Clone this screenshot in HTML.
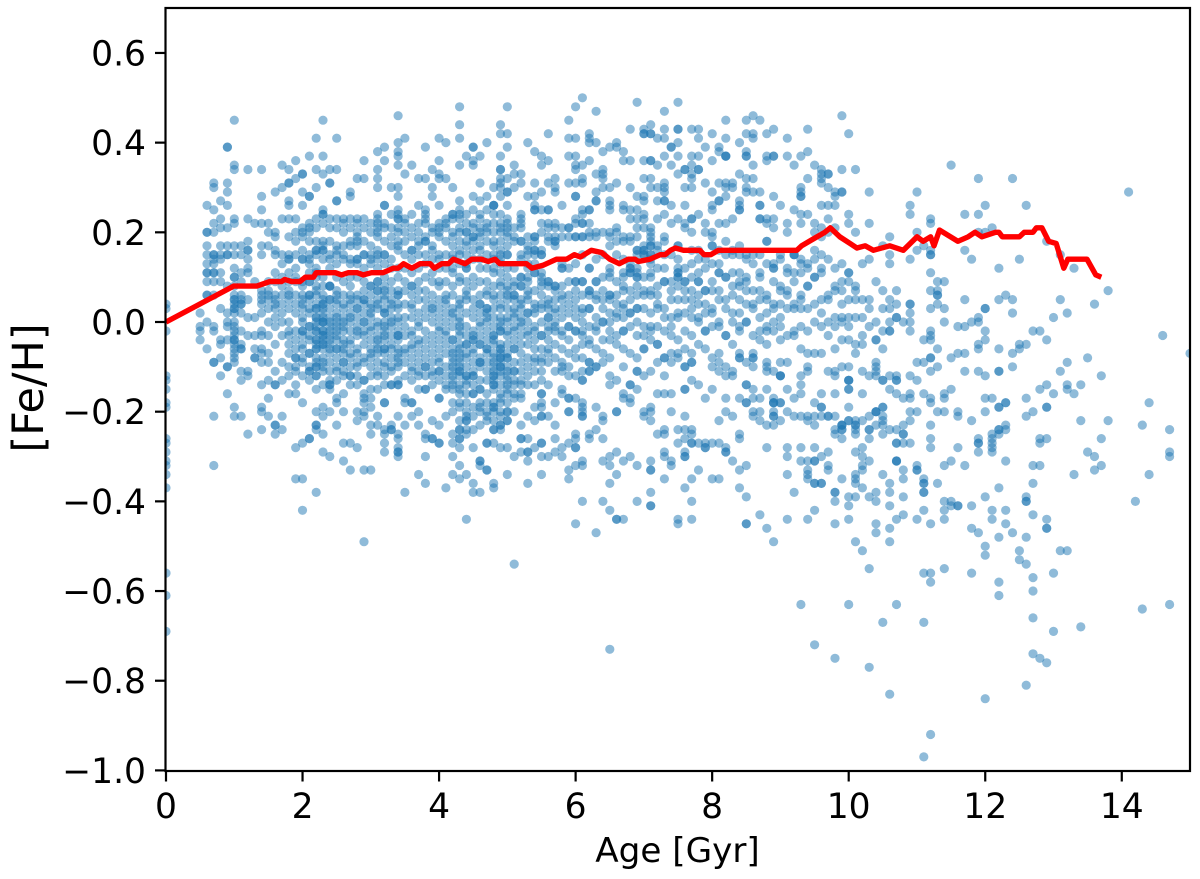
<!DOCTYPE html>
<html>
<head>
<meta charset="utf-8">
<title>Age vs [Fe/H]</title>
<style>
html,body{margin:0;padding:0;background:#fff;}
svg{display:block;}
text{font-family:"DejaVu Sans","Liberation Sans",sans-serif;fill:#000;}
</style>
</head>
<body>
<svg id="chart" xmlns="http://www.w3.org/2000/svg" width="1200" height="879" viewBox="0 0 1200 879">
<defs><clipPath id="plot-clip"><rect x="165.5" y="8" width="1024.5" height="763"/></clipPath></defs>
<rect x="0" y="0" width="1200" height="879" fill="#fff"/>
<g id="points" clip-path="url(#plot-clip)"></g>
<polyline id="trend" clip-path="url(#plot-clip)" fill="none" stroke="#ff0000" stroke-width="5.4" stroke-linejoin="round"/>
<g id="ticks"></g>
<rect x="165.5" y="8" width="1024.5" height="763" fill="none" stroke="#000" stroke-width="2.2"/>
<text x="677.5" y="862" font-size="34.2" text-anchor="middle">Age [Gyr]</text>
<text transform="translate(43,388) rotate(-90)" font-size="43" text-anchor="middle">[Fe/H]</text>
</svg>
<script>
const xTickValues = [0, 2, 4, 6, 8, 10, 12, 14];
const yTickValues = [0.6, 0.4, 0.2, 0, -0.2, -0.4, -0.6, -0.8, -1.0];
const yTickLabels = ["0.6", "0.4", "0.2", "0.0", "\u22120.2", "\u22120.4", "\u22120.6", "\u22120.8", "\u22121.0"];

const lineAges = [0,0.99,1.33,1.52,1.69,1.74,1.84,1.96,2.04,2.16,2.2,2.48,2.57,2.67,2.8,2.89,3.01,3.18,3.33,3.4,3.48,3.6,3.72,3.87,3.93,4.04,4.14,4.21,4.38,4.48,4.62,4.72,4.82,4.89,5.28,5.36,5.53,5.72,5.87,5.98,6.07,6.23,6.38,6.5,6.64,6.77,6.87,6.92,7.09,7.24,7.31,7.39,7.46,7.58,7.82,7.88,7.98,8.09,9.24,9.31,9.48,9.65,9.73,9.87,10.02,10.12,10.24,10.36,10.6,10.8,11.0,11.09,11.2,11.25,11.33,11.6,11.75,11.85,11.95,12.15,12.2,12.25,12.5,12.57,12.7,12.75,12.83,12.93,13.04,13.15,13.21,13.49,13.62,13.7];
const lineFeh = [0,0.08,0.08,0.09,0.09,0.095,0.09,0.09,0.10,0.10,0.11,0.11,0.105,0.11,0.11,0.105,0.11,0.11,0.12,0.12,0.13,0.12,0.13,0.13,0.12,0.13,0.13,0.14,0.13,0.14,0.14,0.135,0.14,0.13,0.13,0.12,0.127,0.14,0.14,0.15,0.145,0.16,0.155,0.14,0.13,0.14,0.14,0.135,0.14,0.15,0.15,0.16,0.165,0.16,0.16,0.15,0.15,0.16,0.16,0.17,0.185,0.20,0.21,0.19,0.175,0.165,0.17,0.16,0.17,0.16,0.19,0.18,0.19,0.17,0.205,0.18,0.19,0.20,0.19,0.20,0.20,0.19,0.19,0.20,0.20,0.21,0.21,0.18,0.175,0.12,0.14,0.14,0.105,0.10];

const ageColumns = [
0,0.5,0.6,0.7,0.8,0.9,1.0,1.1,1.2,1.3,1.4,1.5,1.6,1.7,1.8,1.9,2.0,2.1,2.2,2.3,2.4,2.5,2.6,2.7,2.8,2.9,
3.0,3.1,3.2,3.3,3.4,3.5,3.6,3.7,3.8,3.9,4.0,4.1,4.2,4.3,4.4,4.5,4.6,4.7,4.8,4.9,
5.0,5.1,5.2,5.3,5.4,5.5,5.6,5.7,5.8,5.9,6.0,6.1,6.2,6.3,6.4,6.5,6.6,6.7,6.8,6.9,
7.0,7.1,7.2,7.3,7.4,7.5,7.6,7.7,7.8,7.9,8.0,8.1,8.2,8.3,8.4,8.5,8.6,8.7,8.8,8.9,
9.0,9.1,9.2,9.3,9.4,9.5,9.6,9.7,9.8,9.9,
10.0,10.1,10.2,10.3,10.4,10.5,10.6,10.7,10.8,10.9,
11.0,11.1,11.2,11.3,11.4,11.5,11.6,11.7,11.8,11.9,
12.0,12.1,12.2,12.3,12.4,12.5,12.6,12.7,12.8,12.9,
13.0,13.1,13.2,13.3,13.4,13.5,13.6,13.7,13.8,14.1,14.2,14.3,14.4,14.6,14.7,15.0
];

const fehHundredths = [
[4,3,-2,-12,-13,-15,-18,-19,-26,-27,-29,-31,-32,-34,-37,-56,-61,-69],
[2,-1,-2,-4],
[26,20,20,17,15,13,11,11,9,6,6,0,-6],
[31,30,25,22,20,15,15,14,13,11,11,9,6,-1,-2,-9,-9,-21,-32],
[27,23,21,17,15,14,11,9,3,-4,-5,-8,-12],
[39,39,31,29,26,21,17,15,15,8,2,0,-1,-4,-10,-10,-16],
[45,35,34,23,22,17,15,12,10,10,8,6,5,5,4,3,3,2,0,-1,-2,-3,-4,-4,-5,-6,-7,-8,-9,-19,-21],
[17,15,11,9,6,5,4,4,2,-2,-5,-6,-6,-11,-13,-21],
[34,18,16,16,14,11,5,1,-3,-11,-12,-25],
[22,9,1,-3,-8,-8,-6],
[34,28,25,22,17,15,7,6,5,4,2,-2,-3,-6,-7,-9,-14,-19,-20,-24],
[22,20,17,9,7,6,5,3,0,-3,-7,-9,-13,-17,-21],
[29,20,19,16,15,11,9,6,5,4,3,1,-1,-5,-11,-14,-14,-23,-23,-25],
[35,30,23,15,13,10,8,6,4,2,0,-3,-9,-13,-21,-24],
[34,31,31,27,26,23,19,15,14,14,11,9,7,6,5,3,0,-2,-3,-5,-7,-10,-12,-16],
[36,32,23,20,18,15,12,10,9,6,4,2,-2,-4,-6,-8,-8,-10,-11,-14,-16,-28,-35],
[33,33,29,26,21,20,19,16,14,14,9,8,6,5,4,3,1,0,-2,-2,-3,-5,-6,-8,-9,-12,-18,-27,-35,-42],
[37,28,28,22,21,20,18,15,14,11,9,6,6,5,3,2,-1,-3,-4,-7,-7,-10,-11,-11,-13,-26,-26],
[41,34,30,23,21,18,16,16,15,12,11,10,8,6,4,3,3,1,0,-1,-2,-2,-4,-5,-6,-6,-8,-9,-10,-12,-12,-15,-20,-23,-23,-24,-38],
[45,37,33,25,24,24,22,18,17,16,16,14,10,8,6,5,4,3,2,1,0,0,-2,-2,-3,-4,-5,-5,-6,-8,-9,-10,-11,-14,-19,-21,-25,-29],
[34,31,31,23,21,18,15,14,12,8,8,5,3,1,0,-1,-3,-4,-6,-7,-9,-11,-13,-14,-14,-15,-20,-30],
[41,34,27,27,23,21,17,16,15,13,10,7,5,4,2,1,-1,-2,-4,-6,-6,-8,-10,-11,-13,-17,-18,-23],
[23,22,20,17,15,14,9,6,4,3,0,-1,-2,-4,-6,-7,-9,-9,-11,-12,-16,-20,-27,-31],
[29,28,23,21,18,17,14,13,10,8,6,5,4,2,1,0,-2,-4,-5,-7,-8,-10,-12,-12,-14,-27,-33],
[32,23,22,20,19,18,17,14,14,13,10,6,5,3,3,1,-1,-2,-3,-6,-7,-9,-10,-12,-14,-20,-22,-28],
[36,32,23,21,18,15,15,12,9,7,5,5,4,2,0,0,-2,-3,-5,-8,-9,-13,-13,-16,-17,-18,-20,-21,-33,-49],
[22,20,17,15,14,13,8,6,4,3,2,-1,-2,-4,-7,-8,-10,-12,-15,-17,-19,-23,-25,-33],
[38,34,32,30,24,23,22,21,20,19,16,15,14,12,9,7,7,5,3,0,-1,-3,-5,-6,-7,-9,-11,-12,-15,-21,-23],
[39,36,26,26,22,21,18,15,15,13,10,8,6,5,3,2,2,0,-2,-3,-4,-6,-6,-7,-9,-12,-14,-18,-18,-24,-25,-27,-29],
[30,24,21,19,17,14,12,9,7,5,4,3,1,0,-1,-3,-5,-6,-8,-10,-11,-14,-14,-23,-24,-24],
[46,40,38,37,35,30,28,25,24,23,23,21,20,18,17,16,12,10,7,6,6,4,3,0,-2,-3,-4,-6,-7,-9,-10,-13,-14,-14,-21,-25,-26,-28,-29,-29,-30],
[41,33,23,22,20,18,15,12,9,7,4,1,-1,-3,-6,-7,-9,-12,-17,-18,-23,-38],
[35,24,21,19,16,16,14,11,8,8,6,4,3,1,-2,-3,-5,-6,-8,-10,-11,-13,-18,-18,-21],
[32,26,22,20,18,17,15,12,9,7,5,2,0,-1,-4,-5,-7,-9,-11,-12,-15,-20,-23,-34],
[39,32,25,24,23,22,19,18,18,15,13,10,7,5,3,1,-2,-4,-6,-8,-10,-10,-12,-15,-15,-25,-26,-30,-36],
[34,30,28,21,20,17,16,14,11,9,6,4,3,2,0,-3,-5,-7,-9,-11,-12,-14,-22,-26,-26],
[41,36,33,32,26,22,21,20,19,15,14,12,9,8,5,3,1,-1,-2,-4,-6,-8,-9,-11,-11,-13,-17,-17,-23,-27,-27],
[40,32,23,22,21,18,15,12,9,6,5,4,2,0,-2,-3,-5,-7,-10,-12,-14,-15,-21,-37],
[30,24,24,23,20,19,17,15,14,12,11,8,6,3,2,1,-1,-4,-4,-6,-7,-9,-11,-13,-15,-18,-20,-25,-27,-30,-34],
[48,44,41,35,27,25,24,23,21,20,18,16,15,13,10,9,5,4,3,1,0,-1,-2,-3,-5,-6,-8,-9,-11,-11,-12,-14,-15,-19,-22,-24,-24,-26,-26,-28,-32,-35],
[37,24,22,20,20,18,17,15,13,12,12,9,7,6,5,2,-1,-3,-5,-5,-7,-8,-10,-12,-13,-14,-16,-21,-22,-22,-24,-25,-34,-44],
[39,39,36,35,28,25,22,21,19,19,18,16,14,10,8,5,3,1,-2,-4,-4,-6,-7,-9,-11,-12,-12,-14,-16,-24,-28,-36,-38],
[37,31,27,24,23,21,20,19,17,16,14,12,9,6,4,4,2,0,-1,-3,-5,-5,-8,-9,-10,-13,-15,-19,-23,-31,-31,-32,-38],
[40,28,25,22,21,20,18,15,12,9,7,6,3,2,1,0,-2,-4,-6,-6,-7,-9,-11,-13,-16,-21,-22,-27,-27,-33,-33],
[30,26,26,26,24,22,20,18,17,15,14,12,11,8,6,5,3,1,-1,-3,-3,-4,-5,-7,-8,-9,-10,-11,-12,-13,-14,-14,-15,-19,-19,-24,-24,-27,-36,-37],
[44,42,37,34,34,32,31,30,28,24,22,21,20,18,16,15,14,13,11,9,8,6,4,3,1,0,-1,-2,-2,-5,-6,-6,-7,-8,-8,-9,-10,-10,-11,-12,-14,-21,-23,-23,-28],
[48,42,39,32,29,29,26,23,22,21,20,19,17,15,15,12,10,8,7,6,5,3,1,0,-2,-3,-5,-7,-8,-8,-10,-11,-13,-15,-16,-18,-20,-22,-28,-34],
[35,33,30,21,19,18,12,9,8,6,5,3,1,-2,-4,-6,-6,-9,-11,-11,-13,-14,-16,-30,-54],
[33,31,24,23,22,21,18,18,15,10,10,8,8,5,3,1,-1,-3,-5,-7,-9,-11,-13,-14,-16,-17,-23,-26,-26,-29],
[40,28,19,17,16,15,13,10,9,6,5,2,0,-2,-3,-5,-8,-10,-12,-14,-21,-26,-29,-29,-31,-36],
[38,31,28,26,25,25,19,19,18,16,16,15,13,11,7,4,2,-2,-4,-6,-8,-9,-11,-14,-19,-22,-28],
[37,35,29,25,22,20,16,15,15,11,9,8,6,4,0,-3,-6,-8,-9,-11,-13,-16,-16,-18,-19,-21,-21,-27,-27,-30,-34],
[42,36,31,25,25,22,21,19,18,9,9,8,5,3,1,-1,-4,-7,-9,-14,-21,-30],
[32,30,29,22,21,19,18,18,17,8,8,5,2,0,-2,-5,-8,-11,-18,-23,-26,-29],
[26,21,19,13,12,8,6,3,1,-3,-6,-9,-10,-11,-15,-16,-28,-30],
[45,41,37,31,21,21,19,12,4,2,-1,-4,-7,-10,-12,-17,-17,-20,-20,-27,-33,-35],
[48,41,37,35,34,31,28,28,23,22,19,19,9,9,5,1,-2,-6,-8,-12,-17,-25,-26,-28,-28,-32,-45],
[50,35,32,31,25,24,22,22,19,19,9,9,3,0,-3,-5,-8,-11,-13,-13,-18,-19,-20,-21,-21,-31,-32,-40],
[42,41,40,36,25,25,22,20,19,12,12,7,7,3,-1,-4,-9,-11,-11,-9,-25,-26],
[47,40,33,29,27,27,20,19,9,9,5,1,-2,-6,-10,-10,-19,-24,-47],
[38,34,33,32,30,20,15,7,3,0,-4,-7,-9,-21,-22,-26,-31,-40],
[39,30,27,26,25,20,19,12,11,6,6,5,0,-4,-8,-12,-14,-30,-32,-36,-42,-73],
[40,39,31,21,20,18,6,4,1,-3,-5,-13,-20,-20,-29,-34,-44,-44],
[38,36,26,25,19,18,11,10,8,4,1,-2,-6,-10,-16,-17,-31,-44],
[43,36,30,25,23,19,18,12,12,11,11,5,2,-1,-7,-14,-14,-17,-18,-30],
[49,28,25,23,21,19,16,16,11,10,10,8,3,0,-3,-8,-11,-11,-15,-32,-40],
[43,42,42,36,32,28,27,24,23,21,16,16,15,7,3,-1,-3,-6,-6,-12,-20,-21],
[44,42,42,36,36,32,30,21,20,19,18,17,17,15,15,6,2,-2,-4,-11,-19,-20,-22,-31,-33,-33,-38,-41,-41],
[41,35,30,27,23,17,8,4,-1,-5,-5,-9,-16,-25],
[47,43,41,37,31,30,29,27,27,24,19,15,9,3,-2,-8,-8,-12,-16,-24,-25,-29,-30,-35],
[39,39,35,26,22,9,5,1,-3,-7,-9,-16,-20,-31,-32],
[49,43,43,40,37,33,23,17,11,11,10,10,5,1,-4,-7,-8,-24,-27,-44,-45],
[34,34,30,26,22,21,9,7,2,-2,-6,-10,-10,-15,-15,-21,-24,-26,-29,-30,-30,-37],
[43,37,35,33,32,30,23,23,20,13,5,1,-3,-7,-9,-9,-13,-24,-25,-27,-27,-35,-40,-44],
[43,41,37,34,34,24,16,9,4,0,-5,-14,-27,-33],
[39,31,22,20,7,4,-2,-6,-17,-27,-28,-28],
[42,36,29,26,25,20,19,17,7,3,-1,-8,-10,-15,-27,-35],
[39,38,31,27,27,22,16,11,5,-1,-7,-9,-11,-22,-27,-35],
[45,41,37,37,37,31,30,28,22,18,10,10,3,-3,-10,-12,-17,-20,-28,-29,-29],
[31,30,23,16,11,6,0,-5,-11,-12,-21,-31],
[40,33,27,26,25,25,17,9,8,2,-1,-7,-8,-8,-17,-25,-26,-33,-37],
[45,42,38,37,37,32,30,29,15,10,7,0,-9,-14,-14,-18,-18,-32,-39,-45,-45],
[46,42,41,35,32,29,15,4,-3,-7,-8,-8,-10,-15,-17,-20,-21],
[45,29,26,26,23,23,11,7,1,-2,-17,-20,-22,-43],
[42,37,36,23,22,18,18,6,-1,-5,-9,-10,-11,-15,-23,-28,-46],
[43,37,37,28,23,21,12,12,3,-2,-11,-17,-18,-18,-18,-20,-21,-21,-23,-49],
[26,15,7,1,-4,-9,-12,-12,-18,-18,-12,-22],
[41,37,22,20,11,6,-3,-9,-15,-20,-28,-30,-34,-44],
[35,25,15,15,9,4,-2,-17,-21,-38],
[37,30,29,28,28,24,22,13,5,-1,-6,-12,-14,-16,-21,-28,-31,-63],
[43,38,32,24,12,8,3,-7,-10,-11,-21,-22,-31,-33,-34,-35,-44],
[35,22,20,14,10,0,-7,-18,-21,-23,-28,-31,-31,-36,-36,-42,-72],
[34,33,32,31,26,21,19,11,5,-1,-7,-16,-19,-19,-21,-30,-36,-36],
[33,33,30,26,23,20,6,0,-11,-21,-21,-29,-32,-33],
[29,28,26,21,7,-1,-6,-11,-12,-16,-21,-24,-25,-38,-38,-40,-45,-75],
[46,34,29,29,7,4,1,0,-10,-23,-23,-24,-24,-23,-26,-35],
[42,24,22,11,11,9,5,1,-1,-4,-10,-13,-13,-15,-15,-19,-22,-22,-13,-39,-41,-44,-63],
[34,20,8,7,5,1,-5,-7,-22,-23,-23,-24,-25,-29,-34,-35,-36,-39,-49],
[13,5,1,-3,-5,-11,-16,-22,-28,-30,-32,-33,-37,-51],
[29,22,14,5,3,-1,-12,-21,-24,-24,-26,-31,-39,-55,-77],
[9,0,-4,-4,-9,-10,-11,-12,-20,-20,-20,-23,-38,-40,-45,-47],
[17,7,3,-2,-6,-13,-13,-19,-19,-21,-22,-23,-25,-34,-67],
[19,15,13,5,3,0,-2,-2,-12,-15,-24,-36,-38,-41,-46,-49,-83],
[7,4,1,1,-12,-13,-13,-16,-24,-27,-27,-31,-31,-31,-44,-63],
[0,-17,-23,-25,-25,-27,-33,-35,-39,-43],
[26,24,14,4,4,2,0,-2,-12,-16,-17,-20,-22,-27],
[29,20,16,-9,-13,-20,-32,-33,-33,-44],
[17,-4,-9,-16,-35,-36,-36,-38,-38,-42,-56,-67,-97],
[23,22,16,15,15,11,7,3,-2,-3,-4,-8,-8,-11,-17,-18,-23,-26,-28,-45,-56,-58,-92],
[9,7,6,6,4,-6,-10,-20,-36],
[9,3,0,-16,-17,-20,-32,-40,-42,-44,-55],
[35,-8,-15,-31,-40,-41],
[-1,-7,-20,-21,-28,-41,-41],
[24,16,5,-1,-7,-11,-32],
[14,0,-22,-41,-46,-56],
[32,24,20,1,0,-5,-6,-11,-26,-27,-27,-29,-47],
[26,20,3,3,-2,-4,-12,-17,-20,-39,-50,-52,-84],
[21,-17,-25,-26,-27,-28,-29,-42,-44],
[12,5,-6,-11,-11,-19,-19,-24,-24,-25,-37,-48,-58,-61],
[6,-18,-18,-23,-24,-31,-42,-45],
[32,5,2,-7,-10,-47],
[14,-5,-6,-51,-53],
[26,-5,-17,-21,-39,-40,-40,-48,-54,-81],
[-2,-20,-32,-36,-43,-57,-60,-66,-74],
[-2,-15,-26,-27,-32,-75],
[18,-4,-14,-19,-19,-26,-44,-46,-46,-76],
[1,-16,-56,-69],
[15,5,-11,-51],
[2,-9,-14,-15,-51],
[12,-16,-34],
[-14,-22,-68],
[-8,-29],
[4,-30,-33],
[-12,-26,-32],
[7,-22],
[29],
[-40],
[-23,-64],
[-18,-34],
[-3],
[-24,-29,-30,-63],
[-7]
];

const extraAgeColumns = [1.2,2.1,2.2,2.3,2.4,2.5,2.6,3.0,3.1,3.2,3.4,4.2,4.3,4.4,4.5,4.6,4.7,4.8,4.9,5.0,5.1,5.2,5.3,5.4,5.5,5.6,5.7,5.8,5.9,6.0,6.1,6.2,6.3,6.4,6.5,6.6,6.7,6.8,6.9,7.0,7.1,7.2,7.3,7.4,7.5,7.6,7.7,7.8,7.9,8.0,8.1,8.2,8.3,8.4,8.5,8.6,8.7,8.8,8.9,9.0,9.1,9.2,9.3,9.4,9.5,9.6,9.7,9.8,9.9];
const extraFehHundredths = [
[23,12],[13,9,-1],[7,1,-4,-10],[4,0,-3],[5,-2,-5,8],[0,-3,6],[1,-5],[8,1,-6],[9,4,-4],[7,-1,-10],[1,-3,-8],
[-10,-12,-14,-8],[-7,-10,-16,-18],[-12,-18,-20],[-16,-19,-21,-3],[-9,-15,-18,-20],[3,-18,-20],[-12,-18,-20,-22],[-16,-17,-18,-20,-24],[-12,-14,-20,-22],
[-17,-20,6,2,-1],[14,4,0],[12,7,2],[11,3,-1],[10,3,-3],[4,1,-2,-6],[7,3,-1],[12,5,-2],[9,6,-1],[13,7,3,-2],[15,6,2,-2],[6,3,-5],[14,6,-1],[10,5,0],[17,10,2,-2],[15,9,2],[14,7,3,-2],[13,7,2],[15,12,6,3],[17,15,10,6],[14,13,11,10,7,-1],[16,12,6,3],[18,12,9,1],[15,7,-1],[17,14,12,8,2],[12,9,5],[16,10,7,3],[14,11,9,6,1],[14,12,7,2,-2],[17,13,9,2],[13,11,7,0],[15,5,-3],[15,8,2],[15,11,5,-2],[14,9,4,0],[13,7,3],[15,10,5,-4],[13,5,2,-2],[13,9,4,0],[14,8,-1,4],[12,7,3],[15,11,3,-3],[14,11,6,3],[13,8,-2],[16,10,4],[15,12,2],[14,5,-3],[12,8,1],[13,9,-4]
];

const xAxis = function (age) { return 166 + age * 68.27; };
const yAxis = function (feh) { return 322 - feh * 448.4; };
const SVG_NS = "http://www.w3.org/2000/svg";

const pointsGroup = document.getElementById("points");
function drawColumns(columns, values) {
  columns.forEach(function (age, i) {
    (values[i] || []).forEach(function (v) {
      const c = document.createElementNS(SVG_NS, "circle");
      
      
      c.setAttribute("cx", xAxis(age).toFixed(1));
      c.setAttribute("cy", yAxis(v / 100).toFixed(1));
      c.setAttribute("r", "4.6");
      c.setAttribute("fill", "#1f77b4");
      c.setAttribute("fill-opacity", "0.5");
      pointsGroup.appendChild(c);
    });
  });
}
drawColumns(ageColumns, fehHundredths);
drawColumns(extraAgeColumns, extraFehHundredths);

document.getElementById("trend").setAttribute("points", lineAges.map(function (a, i) {
  return xAxis(a).toFixed(1) + "," + yAxis(lineFeh[i]).toFixed(1);
}).join(" "));

const tickGroup = document.getElementById("ticks");
xTickValues.forEach(function (t) {
  const l = document.createElementNS(SVG_NS, "line");
  
  
  l.setAttribute("x1", xAxis(t)); l.setAttribute("x2", xAxis(t));
  l.setAttribute("y1", 771); l.setAttribute("y2", 781.5);
  l.setAttribute("stroke", "#000"); l.setAttribute("stroke-width", "2.2");
  tickGroup.appendChild(l);
  const s = document.createElementNS(SVG_NS, "text");
  
  
  s.setAttribute("x", xAxis(t)); s.setAttribute("y", 818);
  s.setAttribute("font-size", "34.5"); s.setAttribute("text-anchor", "middle");
  s.textContent = String(t);
  tickGroup.appendChild(s);
});
yTickValues.forEach(function (t, i) {
  const l = document.createElementNS(SVG_NS, "line");
  
  
  l.setAttribute("x1", 155); l.setAttribute("x2", 165.5);
  l.setAttribute("y1", yAxis(t)); l.setAttribute("y2", yAxis(t));
  l.setAttribute("stroke", "#000"); l.setAttribute("stroke-width", "2.2");
  tickGroup.appendChild(l);
  const s = document.createElementNS(SVG_NS, "text");
  
  
  s.setAttribute("x", 146); s.setAttribute("y", yAxis(t) + 12.5);
  s.setAttribute("font-size", "34.5"); s.setAttribute("text-anchor", "end");
  s.textContent = yTickLabels[i];
  tickGroup.appendChild(s);
});
</script>
</body>
</html>
